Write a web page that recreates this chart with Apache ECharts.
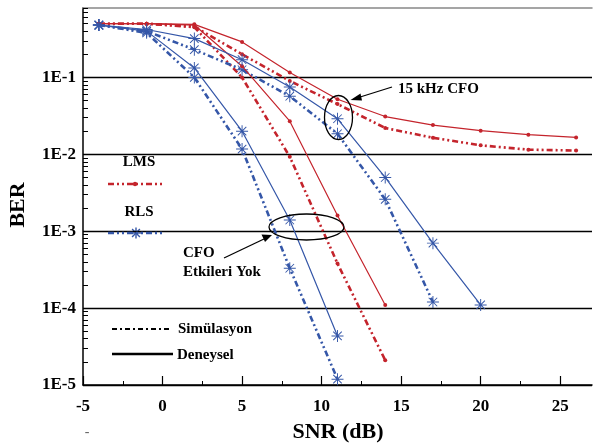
<!DOCTYPE html>
<html><head><meta charset="utf-8">
<script src="https://cdn.jsdelivr.net/npm/echarts@6/dist/echarts.min.js"></script>
<style>html,body{margin:0;padding:0;background:#fff}#c{width:595px;height:446px}</style>
</head><body><div id="c"></div>
<script>
var snr = [-4, -1, 2, 5, 8, 11, 14, 17, 20, 23, 26];
var lmsExpCfo = [0.5, 0.5, 0.49, 0.29, 0.116, 0.052, 0.031, 0.024, 0.0203, 0.018, 0.0166];
var lmsSimCfo = [0.5, 0.5, 0.46, 0.2, 0.09, 0.045, 0.022, 0.0164, 0.0131, 0.0115, 0.0112];
var lmsExpNo = [0.5, 0.5, 0.48, 0.14, 0.027, 0.0016, 0.00011];
var lmsSimNo = [0.5, 0.5, 0.45, 0.1, 0.0093, 0.00038, 0.000021];
var rlsExpCfo = [0.48, 0.42, 0.32, 0.17, 0.075, 0.029, 0.005, 0.0007, 0.00011];
var rlsSimCfo = [0.48, 0.4, 0.23, 0.126, 0.057, 0.0185, 0.0026, 0.00012];
var rlsExpNo = [0.48, 0.4, 0.133, 0.02, 0.0014, 0.0000435];
var rlsSimNo = [0.48, 0.38, 0.1, 0.0117, 0.00033, 0.0000119];
var xTicks = [-5, 0, 5, 10, 15, 20, 25];
var xMinorTicks = [-2.5, 2.5, 7.5, 12.5, 17.5, 22.5];
var yTicks = [1e-5, 1e-4, 1e-3, 1e-2, 1e-1];
var yMinorTicks = [];
[1e-5, 1e-4, 1e-3, 1e-2, 1e-1].forEach(function (d) {
  for (var k = 2; k <= 9; k++) { if (d * k <= 0.8) yMinorTicks.push(d * k); }
});

var RED = '#c4242c', BLUE = '#3557a8';
var FONT = 'Liberation Serif';
var STAR = 'path://M9.2,0H10.8V20H9.2Z M0,9.2H20V10.8H0Z M2.34,3.47L3.47,2.34L17.66,16.53L16.53,17.66Z M16.53,2.34L17.66,3.47L3.47,17.66L2.34,16.53Z';
var DASHDOT = [6, 3, 2, 3, 2, 3];

function pairs(vals) { return vals.map(function (v, i) { return [snr[i], v]; }); }
function ser(name, vals, color, dashed, isStar) {
  return {
    name: name, type: 'line', data: pairs(vals), xAxisIndex: 0, yAxisIndex: 0,
    symbol: isStar ? STAR : 'circle', symbolSize: isStar ? 12 : 4,
    itemStyle: { color: color },
    lineStyle: { color: color, width: dashed ? 2.6 : 1.2, type: dashed ? DASHDOT : 'solid' },
    z: dashed ? 3 : 4, animation: false
  };
}

var chart = echarts.init(document.getElementById('c'), null, { renderer: 'canvas' });
var option = {
  animation: false,
  grid: { left: 83, right: 3, top: 8, bottom: 61 },
  xAxis: [{
    type: 'value', min: -5, max: 27, interval: 5,
    axisLine: { onZero: false, lineStyle: { color: '#000', width: 1.5 } },
    axisTick: { inside: true, length: 9, customValues: xTicks, lineStyle: { color: '#000', width: 1.2 } },
    axisLabel: { customValues: xTicks, margin: 13, color: '#000', fontFamily: FONT, fontWeight: 'bold', fontSize: 17 },
    splitLine: { show: false }
  }, {
    type: 'value', min: -5, max: 27, position: 'bottom',
    axisLine: { show: false, onZero: false },
    axisTick: { inside: true, length: 4, customValues: xMinorTicks, lineStyle: { color: '#000', width: 1 } },
    axisLabel: { show: false }, splitLine: { show: false }
  }, {
    type: 'value', min: -5, max: 27, position: 'top',
    axisLine: { show: true, onZero: false, lineStyle: { color: '#888', width: 1.5 } },
    axisTick: { show: false }, axisLabel: { show: false }, splitLine: { show: false }
  }],
  yAxis: [{
    type: 'log', min: 1e-5, max: 0.8, logBase: 10,
    axisLine: { show: true, onZero: false, lineStyle: { color: '#000', width: 1.5 } },
    axisTick: { inside: true, length: 8, customValues: yTicks, lineStyle: { color: '#000' } },
    axisLabel: {
      customValues: yTicks, margin: 7, color: '#000', fontFamily: FONT, fontWeight: 'bold', fontSize: 17,
      formatter: function (v) { return '1E' + Math.round(Math.log10(v)); }
    },
    splitLine: { show: true, lineStyle: { color: '#000', width: 1.3 } }
  }, {
    type: 'log', min: 1e-5, max: 0.8, logBase: 10, position: 'left',
    axisLine: { show: false, onZero: false },
    axisTick: { inside: true, length: 5, customValues: yMinorTicks, lineStyle: { color: '#000' } },
    axisLabel: { show: false }, splitLine: { show: false }
  }],
  series: [
    ser('LMS Simülasyon CFO', lmsSimCfo, RED, true, false),
    ser('LMS Deneysel CFO', lmsExpCfo, RED, false, false),
    ser('LMS Simülasyon', lmsSimNo, RED, true, false),
    ser('LMS Deneysel', lmsExpNo, RED, false, false),
    ser('RLS Simülasyon CFO', rlsSimCfo, BLUE, true, true),
    ser('RLS Deneysel CFO', rlsExpCfo, BLUE, false, true),
    ser('RLS Simülasyon', rlsSimNo, BLUE, true, true),
    ser('RLS Deneysel', rlsExpNo, BLUE, false, true)
  ],
  graphic: [
    { type: 'text', x: 18, y: 205, rotation: Math.PI / 2, style: { text: 'BER', font: 'bold 22px ' + FONT, fill: '#000', align: 'center', verticalAlign: 'middle' } },
    { type: 'text', x: 338, y: 432, style: { text: 'SNR (dB)', font: 'bold 22px ' + FONT, fill: '#000', align: 'center', verticalAlign: 'middle' } },
    { type: 'text', x: 87, y: 432, style: { text: '-', font: '14px ' + FONT, fill: '#666', align: 'center', verticalAlign: 'middle' } },
    // LMS / RLS legend
    { type: 'text', x: 139, y: 162, z: 10, style: { text: 'LMS', font: 'bold 15px ' + FONT, fill: '#000', align: 'center', verticalAlign: 'middle' } },
    { type: 'line', z: 10, shape: { x1: 108, y1: 184, x2: 164, y2: 184 }, style: { stroke: RED, lineWidth: 2.6, lineDash: DASHDOT } },
    { type: 'circle', z: 10, shape: { cx: 135, cy: 184, r: 2.2 }, style: { fill: RED } },
    { type: 'text', x: 139, y: 212, z: 10, style: { text: 'RLS', font: 'bold 15px ' + FONT, fill: '#000', align: 'center', verticalAlign: 'middle' } },
    { type: 'line', z: 10, shape: { x1: 108, y1: 233, x2: 164, y2: 233 }, style: { stroke: BLUE, lineWidth: 2.6, lineDash: DASHDOT } },
    { type: 'group', x: 130.5, y: 227.5, z: 10, children: [
      { type: 'line', shape: { x1: 5.5, y1: 0, x2: 5.5, y2: 11 }, style: { stroke: BLUE, lineWidth: 1.4 } },
      { type: 'line', shape: { x1: 0, y1: 5.5, x2: 11, y2: 5.5 }, style: { stroke: BLUE, lineWidth: 1.4 } },
      { type: 'line', shape: { x1: 1.6, y1: 1.6, x2: 9.4, y2: 9.4 }, style: { stroke: BLUE, lineWidth: 1.4 } },
      { type: 'line', shape: { x1: 9.4, y1: 1.6, x2: 1.6, y2: 9.4 }, style: { stroke: BLUE, lineWidth: 1.4 } }
    ] },
    // Simulasyon / Deneysel legend
    { type: 'line', z: 10, shape: { x1: 112, y1: 329, x2: 170, y2: 329 }, style: { stroke: '#000', lineWidth: 2, lineDash: [5, 3, 2, 3] } },
    { type: 'text', x: 178, y: 329, z: 10, style: { text: 'Simülasyon', font: 'bold 15px ' + FONT, fill: '#000', align: 'left', verticalAlign: 'middle' } },
    { type: 'line', z: 10, shape: { x1: 112, y1: 354, x2: 173, y2: 354 }, style: { stroke: '#000', lineWidth: 2.5 } },
    { type: 'text', x: 177, y: 355, z: 10, style: { text: 'Deneysel', font: 'bold 15px ' + FONT, fill: '#000', align: 'left', verticalAlign: 'middle' } },
    // 15 kHz CFO annotation
    { type: 'ellipse', z: 10, shape: { cx: 338.5, cy: 117.5, rx: 14, ry: 22 }, style: { fill: 'none', stroke: '#000', lineWidth: 1.3 } },
    { type: 'line', z: 10, shape: { x1: 392, y1: 87, x2: 357, y2: 98 }, style: { stroke: '#000', lineWidth: 1.3 } },
    { type: 'polygon', z: 10, shape: { points: [[350.5, 100], [360.5, 93.5], [362, 100.5]] }, style: { fill: '#000' } },
    { type: 'text', x: 398, y: 89, z: 10, style: { text: '15 kHz CFO', font: 'bold 15px ' + FONT, fill: '#000', align: 'left', verticalAlign: 'middle' } },
    // CFO Etkileri Yok annotation
    { type: 'ellipse', z: 10, shape: { cx: 306.5, cy: 227, rx: 37.5, ry: 13 }, style: { fill: 'none', stroke: '#000', lineWidth: 1.3 } },
    { type: 'line', z: 10, shape: { x1: 224, y1: 258, x2: 265, y2: 238.5 }, style: { stroke: '#000', lineWidth: 1.3 } },
    { type: 'polygon', z: 10, shape: { points: [[272, 235], [261.5, 234.5], [265, 242]] }, style: { fill: '#000' } },
    { type: 'text', x: 183, y: 253, z: 10, style: { text: 'CFO', font: 'bold 15px ' + FONT, fill: '#000', align: 'left', verticalAlign: 'middle' } },
    { type: 'text', x: 183, y: 272, z: 10, style: { text: 'Etkileri Yok', font: 'bold 15px ' + FONT, fill: '#000', align: 'left', verticalAlign: 'middle' } }
  ]
};
chart.setOption(option);
</script></body></html>
